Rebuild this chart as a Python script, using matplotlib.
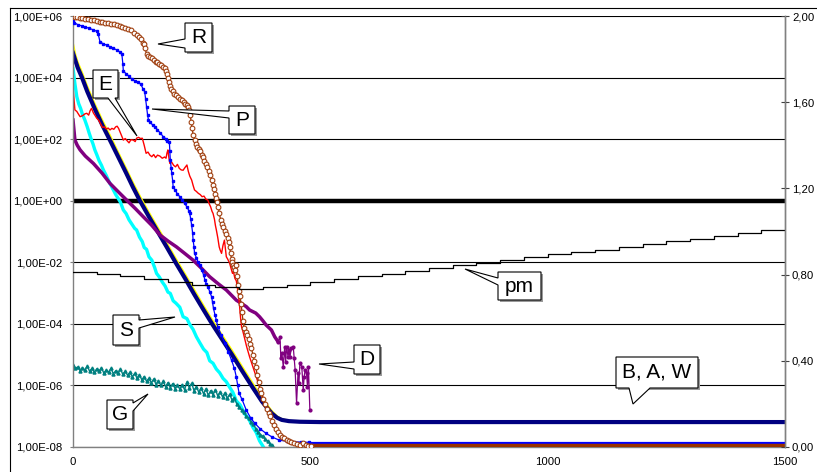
import numpy as np
import matplotlib
matplotlib.use("Agg")
import matplotlib.pyplot as plt
from matplotlib.ticker import FixedLocator, FuncFormatter, NullLocator
from matplotlib.patches import Polygon
from matplotlib.lines import Line2D

plt.rcParams['font.family'] = ['Liberation Sans', 'DejaVu Sans']

# ---- series values: (iteration, log10 of value) -------------------------
r_points = [(0, 6.00), (4, 5.98), (9, 5.96), (14, 5.95), (20, 5.92), (26, 5.90), (32, 5.89),
            (38, 5.87), (44, 5.86), (50, 5.84), (56, 5.81), (62, 5.80), (68, 5.78), (74, 5.76),
            (80, 5.75), (86, 5.73), (92, 5.71), (98, 5.68), (104, 5.65), (110, 5.62), (116, 5.58),
            (122, 5.53), (128, 5.46), (134, 5.38), (139, 5.32), (143, 5.25), (147, 5.13),
            (150, 5.10), (152, 4.95), (155, 4.75), (158, 4.70), (162, 4.66), (166, 4.62),
            (170, 4.58), (174, 4.52), (178, 4.50), (182, 4.45), (186, 4.40), (190, 4.35),
            (193, 4.30), (196, 4.22), (198, 4.12), (200, 4.00), (202, 3.85), (204, 3.72),
            (207, 3.62), (210, 3.55), (213, 3.48), (217, 3.42), (221, 3.36), (225, 3.32),
            (229, 3.26), (233, 3.20), (237, 3.15), (240, 3.10), (243, 3.05), (245, 2.95),
            (247, 2.80), (249, 2.55), (251, 2.35), (253, 2.15), (256, 1.97), (259, 1.85),
            (262, 1.75), (265, 1.68), (268, 1.60), (271, 1.50), (274, 1.42), (277, 1.30),
            (280, 1.20), (283, 1.08), (286, 0.95), (289, 0.82), (292, 0.68), (295, 0.52),
            (298, 0.38), (300, 0.22), (302, 0.10), (304, -0.05), (306, -0.20), (308, -0.40),
            (311, -0.62), (314, -0.75), (317, -0.85), (320, -0.98), (323, -1.08), (326, -1.20),
            (328, -1.35), (330, -1.50), (332, -1.70), (334, -1.90), (336, -2.00), (338, -2.08),
            (340, -2.15), (342, -2.25), (344, -2.10), (346, -2.45), (348, -2.75), (350, -2.92),
            (352, -3.10), (354, -3.35), (356, -3.60), (358, -3.90), (361, -4.15), (364, -4.25),
            (367, -4.35), (370, -4.50), (373, -4.65), (376, -4.80), (379, -5.00), (382, -5.20),
            (385, -5.40), (388, -5.65), (391, -5.90), (394, -6.10), (397, -6.25), (400, -6.45),
            (404, -6.60), (408, -6.75), (412, -6.88), (416, -7.00), (420, -7.15), (424, -7.30),
            (428, -7.42), (432, -7.52), (436, -7.60), (440, -7.66), (445, -7.72), (450, -7.78),
            (455, -7.82), (460, -7.85), (466, -7.87), (472, -7.90), (478, -7.92), (484, -7.88),
            (490, -7.94), (496, -7.96), (502, -7.97)]
r_tail = [(502, -7.97), (1500, -7.97)]

p_points = [(0, 5.85), (3, 5.78), (10, 5.72), (18, 5.68), (26, 5.64), (34, 5.60), (43, 5.55),
            (50, 5.50), (53, 5.42), (57, 5.15), (64, 5.10), (71, 5.05), (78, 5.00), (85, 4.95),
            (92, 4.90), (98, 4.84), (103, 4.75), (105, 4.45), (106, 4.22), (112, 4.12),
            (118, 4.05), (124, 3.95), (130, 3.90), (137, 3.85), (143, 3.78), (148, 3.62),
            (151, 3.54), (153, 3.30), (155, 3.05), (157, 2.80), (159, 2.62), (163, 2.55),
            (168, 2.45), (173, 2.40), (178, 2.30), (184, 2.20), (190, 2.08), (195, 2.02),
            (199, 1.95), (203, 1.92), (204, 1.60), (205, 1.32), (207, 1.05), (208, 0.89),
            (210, 0.65), (211, 0.45), (215, 0.35), (220, 0.22), (225, 0.13), (230, 0.03),
            (235, -0.08), (240, -0.20), (244, -0.32), (246, -0.41), (248, -0.60), (250, -0.80),
            (252, -1.05), (253, -1.28), (255, -1.50), (256, -1.71), (260, -1.85), (263, -1.98),
            (267, -2.10), (271, -2.25), (275, -2.40), (278, -2.58), (281, -2.70), (284, -2.79),
            (288, -2.95), (292, -3.12), (294, -3.30), (296, -3.50), (299, -3.70), (302, -3.88),
            (305, -4.09), (312, -4.35), (320, -4.63), (327, -4.90), (334, -5.18), (340, -5.45),
            (344, -5.72), (347, -6.00), (350, -6.26), (356, -6.45), (365, -6.80), (374, -7.05),
            (383, -7.23), (395, -7.42), (407, -7.56), (420, -7.68), (435, -7.78), (450, -7.81),
            (463, -7.83), (480, -7.84), (498, -7.85)]
p_tail = [(498, -7.86), (1500, -7.86)]

e_points = [(0, 3.78), (1, 3.50), (4, 2.95), (8, 2.90), (12, 2.80), (15, 2.73), (20, 2.76),
            (25, 2.82), (29, 2.84), (33, 2.78), (36, 2.92), (39, 3.00), (43, 2.85), (46, 2.78),
            (50, 2.68), (54, 2.62), (58, 2.50), (62, 2.38), (66, 2.40), (70, 2.33), (74, 2.36),
            (78, 2.30), (82, 2.35), (86, 2.32), (90, 2.40), (93, 2.42), (96, 2.35), (100, 2.20),
            (104, 2.05), (106, 1.97), (110, 2.02), (114, 1.95), (118, 1.88), (122, 1.98),
            (127, 1.97), (131, 1.92), (134, 2.03), (138, 2.06), (142, 2.02), (146, 2.03),
            (150, 1.80), (154, 1.54), (158, 1.58), (162, 1.48), (166, 1.43), (170, 1.50),
            (174, 1.40), (178, 1.48), (183, 1.45), (188, 1.38), (193, 1.42), (196, 1.38),
            (198, 1.55), (200, 1.65), (202, 1.40), (204, 1.21), (208, 1.25), (212, 1.15),
            (216, 1.10), (220, 1.18), (224, 1.05), (228, 1.00), (232, 0.99), (236, 1.08),
            (240, 1.16), (243, 0.95), (246, 0.80), (250, 0.67), (253, 0.50), (256, 0.35),
            (260, 0.30), (264, 0.24), (268, 0.20), (272, 0.13), (276, 0.15), (280, 0.05),
            (284, 0.02), (287, -0.10), (290, -0.20), (293, -0.35), (295, -0.41), (298, -0.60),
            (300, -0.80), (302, -0.95), (305, -1.20), (308, -1.50), (310, -1.60), (313, -1.71),
            (316, -1.45), (319, -1.28), (321, -1.55), (323, -1.82), (326, -1.90), (330, -2.03),
            (333, -2.20), (336, -2.36), (338, -2.30), (341, -2.52), (344, -2.60), (347, -2.90),
            (349, -3.10), (351, -3.44), (353, -3.80), (355, -4.09), (358, -4.25), (362, -4.50),
            (366, -4.75), (372, -5.07), (378, -5.35), (386, -5.72), (392, -6.00), (397, -6.26),
            (402, -6.45), (407, -6.69), (414, -6.95), (421, -7.20), (428, -7.45), (436, -7.62),
            (444, -7.75), (452, -7.85), (460, -7.92)]

d_points = [(0, 2.62), (2, 2.30), (4, 1.97), (9, 1.80), (15, 1.65), (26, 1.45), (43, 1.21),
            (61, 0.90), (78, 0.56), (96, 0.28), (113, 0.02), (131, -0.25), (148, -0.52),
            (166, -0.80), (183, -1.11), (201, -1.32), (218, -1.50), (236, -1.72), (253, -1.93),
            (271, -2.20), (288, -2.47), (306, -2.70), (323, -2.90), (344, -3.23), (365, -3.44),
            (372, -3.55), (385, -3.65), (393, -3.77), (400, -3.90), (407, -4.04), (418, -4.20),
            (425, -4.42), (432, -4.58)]
d_tail = [(432, -4.58), (436, -4.42), (438, -5.12), (440, -4.95), (443, -5.39), (446, -4.74),
          (448, -5.23), (450, -4.74), (453, -5.07), (455, -4.85), (457, -5.07), (460, -4.80),
          (464, -4.74), (466, -5.12), (468, -5.50), (471, -6.58), (474, -5.60), (476, -5.93),
          (478, -5.28), (482, -5.39), (485, -6.15), (487, -5.72), (489, -5.50), (492, -5.61),
          (494, -6.04), (496, -5.39), (499, -6.80)]

s_points = [(0, 4.30), (1, 4.19), (4, 3.80), (8, 3.38), (12, 3.15), (16, 3.00), (20, 2.80),
            (25, 2.62), (30, 2.40), (34, 2.20), (39, 1.97), (42, 1.85), (46, 1.65), (50, 1.50),
            (55, 1.30), (60, 1.15), (64, 1.00), (70, 0.82), (75, 0.65), (80, 0.50), (85, 0.35),
            (90, 0.20), (95, 0.08), (100, -0.05), (106, -0.30), (112, -0.42), (118, -0.62),
            (124, -0.76), (130, -0.90), (134, -0.95), (140, -1.18), (146, -1.33), (150, -1.52),
            (155, -1.58), (160, -1.82), (166, -1.93), (172, -2.17), (176, -2.36), (182, -2.48),
            (188, -2.64), (194, -2.77), (200, -2.97), (205, -3.01), (211, -3.25), (217, -3.33),
            (225, -3.46), (232, -3.77), (240, -3.83), (246, -4.02), (253, -4.18), (260, -4.42),
            (267, -4.61), (275, -4.82), (282, -4.93), (288, -5.20), (295, -5.28), (302, -5.47),
            (309, -5.59), (316, -5.77), (323, -5.88), (330, -6.06), (337, -6.23), (344, -6.50),
            (352, -6.63), (362, -6.93), (370, -7.08), (379, -7.36), (386, -7.53), (393, -7.80),
            (400, -7.97), (405, -8.10)]

g_points = [(0, -5.35), (5, -5.45), (10, -5.40), (15, -5.52), (20, -5.42), (25, -5.50),
            (30, -5.37), (35, -5.54), (40, -5.45), (45, -5.57), (50, -5.46), (55, -5.54),
            (60, -5.43), (65, -5.60), (70, -5.50), (75, -5.57), (80, -5.45), (85, -5.62),
            (90, -5.52), (95, -5.59), (100, -5.47), (105, -5.64), (110, -5.54), (115, -5.67),
            (120, -5.57), (125, -5.72), (130, -5.61), (135, -5.77), (140, -5.65), (145, -5.82),
            (150, -5.71), (155, -5.87), (160, -5.77), (165, -5.92), (170, -5.79), (175, -5.97),
            (180, -5.84), (185, -6.00), (190, -5.87), (195, -6.04), (200, -5.91), (205, -6.07),
            (210, -5.94), (215, -6.10), (220, -5.99), (225, -6.12), (230, -5.97), (235, -6.14),
            (240, -5.89), (245, -6.07), (250, -5.93), (255, -6.17), (260, -6.04), (265, -6.22),
            (270, -6.09), (275, -6.27), (280, -6.11), (285, -6.32), (290, -6.17), (295, -6.30),
            (300, -6.14), (305, -6.34), (310, -6.21), (315, -6.37), (320, -6.24), (325, -6.42),
            (330, -6.29), (335, -6.47), (340, -6.40), (345, -6.60), (350, -6.70), (355, -6.80),
            (360, -6.85), (365, -7.00), (370, -7.05), (375, -7.20), (380, -7.25), (385, -7.40),
            (390, -7.50), (395, -7.60), (400, -7.65), (405, -7.75), (410, -7.80), (415, -7.90),
            (420, -7.95), (425, -8.05)]

b_points = [(0, 4.80), (5, 4.55), (10, 4.32), (19, 4.00), (30, 3.55), (46, 2.98), (62, 2.45),
            (80, 1.90), (96, 1.40), (112, 0.90), (126, 0.45), (141, 0.00), (160, -0.52),
            (179, -1.02), (198, -1.52), (217, -2.03), (236, -2.52), (255, -3.03), (274, -3.52),
            (293, -4.00), (314, -4.50), (335, -5.00), (356, -5.52), (377, -6.03), (398, -6.52),
            (410, -6.75), (419, -6.91), (430, -7.05), (440, -7.12), (455, -7.16), (478, -7.18),
            (520, -7.19), (700, -7.19), (1000, -7.19), (1500, -7.19)]

a_points = [(0, 5.11), (5, 4.75), (10, 4.50), (19, 4.17), (30, 3.72), (46, 3.14), (62, 2.61),
            (80, 2.06), (96, 1.55), (112, 1.05), (126, 0.60), (141, 0.15), (160, -0.38),
            (179, -0.88), (198, -1.38), (217, -1.89), (236, -2.38), (255, -2.88), (274, -3.38),
            (293, -3.86), (314, -4.36), (335, -4.86), (356, -5.38), (377, -5.89), (398, -6.40),
            (410, -6.65), (419, -6.83), (430, -7.00), (440, -7.09), (455, -7.15), (478, -7.18),
            (520, -7.19), (1500, -7.19)]

# penalty multiplier pm (secondary axis), one level per 50-iteration block
pm_start = [0, 50, 100, 150, 200, 250, 300, 350, 400, 450, 500, 550, 600, 650, 700,
            750, 800, 850, 900, 950, 1000, 1050, 1100, 1150, 1200, 1250, 1300, 1350, 1400, 1450]
pm_level = [0.812, 0.804, 0.794, 0.781, 0.766, 0.752, 0.742, 0.733, 0.742, 0.753,
            0.767, 0.780, 0.792, 0.804, 0.818, 0.831, 0.843, 0.855, 0.868, 0.880,
            0.894, 0.903, 0.916, 0.928, 0.943, 0.955, 0.967, 0.979, 0.992, 1.006]
pm_end = 1500

left_ticks = [1e-8, 1e-6, 1e-4, 1e-2, 1e0, 1e2, 1e4, 1e6]
right_ticks = [0.0, 0.4, 0.8, 1.2, 1.6, 2.0]
x_ticks = [0, 500, 1000, 1500]


def xy(points):
    arr = np.array(points, dtype=float)
    return arr[:, 0], 10.0 ** arr[:, 1]


W, H = 817, 472
fig = plt.figure(figsize=(W / 100, H / 100), dpi=100)
fig.patch.set_facecolor('white')
ax = fig.add_axes([73 / W, 1 - 447 / H, (785 - 73) / W, (447 - 16) / H])
ax.set_yscale('log')
ax.set_xlim(0, 1500)
ax.set_ylim(1e-8, 1e6)

# horizontal grid + heavy unit line
for t in left_ticks:
    ax.axhline(t, color='black', lw=0.8, zorder=0.5)
ax.axhline(1.0, color='black', lw=3.2, zorder=0.6)

# series, back to front
x, y = xy(a_points)
ax.plot(x, y, color='#FFFF00', lw=1.4, zorder=2)
x, y = xy(b_points)
ax.plot(x, y, color='#000080', lw=3.0, zorder=2.1)
x, y = xy(s_points)
ax.plot(x, y, color='#00FFFF', lw=2.4, zorder=2.2)
x, y = xy(g_points)
ax.plot(x, y, color='#008080', lw=1.0, marker='^', ms=2.2, mfc='#008080', mec='#008080', zorder=2.3)
x, y = xy(d_points)
ax.plot(x, y, color='#800080', lw=2.5, zorder=2.4)
x, y = xy(d_tail)
ax.plot(x, y, color='#800080', lw=0.9, marker='o', ms=2.0, zorder=2.4)
x, y = xy(e_points)
ax.plot(x, y, color='#FF0000', lw=1.0, zorder=2.5)
x, y = xy(p_points)
ax.plot(x, y, color='#0000FF', lw=0.9, marker='s', ms=1.7, zorder=2.6)
x, y = xy(p_tail)
ax.plot(x, y, color='#0000FF', lw=1.6, zorder=2.6)
x, y = xy(r_tail)
ax.plot(x, y, color='#993300', lw=3.2, zorder=2.7)
x, y = xy(r_points)
ax.plot(x, y, color='#993300', lw=0.9, marker='o', ms=3.4, mfc='white', mec='#A04010',
        mew=0.8, zorder=2.8)

ax.yaxis.set_major_locator(FixedLocator(left_ticks))
ax.yaxis.set_minor_locator(NullLocator())


def sci_comma(v, pos):
    e = int(round(np.log10(v)))
    return "1,00E{:+03d}".format(e)


ax.yaxis.set_major_formatter(FuncFormatter(sci_comma))
ax.set_xticks(x_ticks)
ax.set_xticklabels([str(t) for t in x_ticks])
ax.tick_params(axis='y', which='major', direction='out', length=2.5, width=0.8,
               color='#808080', pad=5, labelsize=8.2)
ax.tick_params(axis='x', length=0, pad=7, labelsize=8.2)
for side in ('left', 'bottom', 'right'):
    ax.spines[side].set_color('#808080')
    ax.spines[side].set_linewidth(1.0)
ax.spines['top'].set_visible(False)

# secondary axis with the pm step curve
ax2 = ax.twinx()
ax2.set_ylim(0, 2.0)
sx = pm_start + [pm_end]
sy = pm_level + [pm_level[-1]]
ax2.step(sx, sy, where='post', color='black', lw=0.9)
ax2.set_yticks(right_ticks)
ax2.yaxis.set_major_formatter(FuncFormatter(lambda v, p: "{:.2f}".format(v).replace('.', ',')))
ax2.tick_params(axis='y', direction='inout', length=6, width=0.8, color='#404040', pad=2,
                labelsize=8.2)
for side in ('left', 'top', 'bottom'):
    ax2.spines[side].set_visible(False)
ax2.spines['right'].set_color('#808080')
ax2.spines['right'].set_linewidth(1.0)
ax2.set_xlim(0, 1500)

# callout labels (pixel layout)
callouts = [
    ("R", (185, 23, 212, 52), 'left', (39, 48), (158, 44)),
    ("P", (229, 106, 255, 134), 'left', (111, 118), (152, 109)),
    ("E", (93, 70, 118, 98), 'bottom', (108, 115), (137, 136)),
    ("pm", (498, 272, 541, 300), 'left', (278, 285), (465, 269)),
    ("D", (354, 345, 380, 374), 'left', (362, 369), (319, 364)),
    ("S", (113, 315, 139, 345), 'right', (320, 328), (175, 317)),
    ("G", (107, 400, 133, 429), 'right', (403, 411), (148, 394)),
    ("B, A, W", (616, 357, 698, 388), 'bottom', (629, 650), (633, 404)),
]


def callout_shape(rect, side, base, tip):
    x0, y0, x1, y1 = rect
    if side == 'left':
        return [(x0, y0), (x1, y0), (x1, y1), (x0, y1), (x0, base[1]), tip, (x0, base[0])]
    if side == 'right':
        return [(x0, y0), (x1, y0), (x1, base[0]), tip, (x1, base[1]), (x1, y1), (x0, y1)]
    return [(x0, y0), (x1, y0), (x1, y1), (base[1], y1), tip, (base[0], y1), (x0, y1)]


def to_fig(pts, dx=0, dy=0):
    return [((px + dx) / W, 1 - (py + dy) / H) for px, py in pts]


for text, rect, side, base, tip in callouts:
    pts = callout_shape(rect, side, base, tip)
    x0, y0, x1, y1 = rect
    shadow = [(x0, y0), (x1, y0), (x1, y1), (x0, y1)]
    fig.add_artist(Polygon(to_fig(shadow, 2, 2), closed=True, fc='#9a9a9a', ec='none',
                           transform=fig.transFigure, zorder=5))
    fig.add_artist(Polygon(to_fig(pts), closed=True, fc='white', ec='black', lw=0.8,
                           transform=fig.transFigure, zorder=6))
    fig.text((x0 + x1) / 2 / W, 1 - (y0 + y1) / 2 / H, text, ha='center', va='center',
             fontsize=15, zorder=7)

# chart-area frame
fig.add_artist(Line2D([10 / W, 1], [1 - 8 / H, 1 - 8 / H], transform=fig.transFigure,
                      color='black', lw=0.8))
fig.add_artist(Line2D([10 / W, 10 / W], [0, 1 - 8 / H], transform=fig.transFigure,
                      color='black', lw=0.8))

fig.savefig('out.png', dpi=100, facecolor='white')
